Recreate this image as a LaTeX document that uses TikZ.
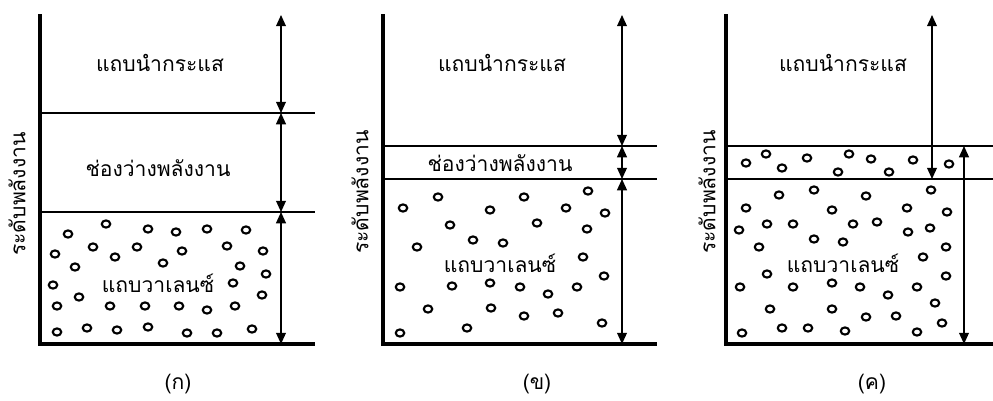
\documentclass[tikz,border=0pt]{standalone}
\usepackage{fontspec}
\newfontfamily\thaifont[Script=Thai]{Loma}
\usetikzlibrary{arrows.meta}

\tikzset{
    axis/.style={line width=2.2pt},
    level/.style={line width=1.8pt},
    span/.style={{Triangle[length=8pt,width=7pt]}-{Triangle[length=8pt,width=7pt]}, line width=1pt},
    lbl/.style={font=\thaifont\fontsize{15}{17}\selectfont, inner sep=0pt},
    elec/.style={line width=1.5pt}
}

\begin{document}
\begin{tikzpicture}[x=0.025cm,y=-0.025cm]
    \useasboundingbox (0,0) rectangle (993,401);

    % (a) wide gap
    \coordinate (a0) at (40,14);
    \coordinate (a1) at (40,344);
    \coordinate (a2) at (315,344);
    \coordinate (ac) at (40,113);  \coordinate (ac') at (315,113);
    \coordinate (av) at (40,212);  \coordinate (av') at (315,212);
    \coordinate (at) at (281,15);  \coordinate (au) at (281,113);
    \coordinate (al) at (281,212); \coordinate (ab) at (281,344);

    \draw[axis] (a0) -- (a1) -- (a2);
    \draw[level] (ac) -- (ac');
    \draw[level] (av) -- (av');
    \draw[span] (at) -- (au);
    \draw[span] (au) -- (al);
    \draw[span] (al) -- (ab);

    \node[lbl] (condA) at (160,63) {แถบนำกระแส};
    \node[lbl] (gapA) at (158,168) {ช่องว่างพลังงาน};
    \node[lbl] (valA) at (158,283) {แถบวาเลนซ์};
    \node[lbl, rotate=90] (axA) at (17,194) {ระดับพลังงาน};
    \node[lbl] (capA) at (178,384) {(ก)};

    \foreach \x/\y in {106/224,68/234,148/229,176/232,207/229,246/230,
        55/254,93/247,115/257,137/247,182/251,227/246,263/251,
        75/267,163/263,240/266,266/274,53/285,233/283,79/297,262/295,
        57/306,110/306,145/306,179/306,207/310,235/306,
        57/332,87/328,117/330,148/327,187/333,217/333,252/329}
        \draw[elec] (\x,\y) ellipse [x radius=0.105cm, y radius=0.09cm];

    % (b) narrow gap
    \coordinate (b0) at (383,14);
    \coordinate (b1) at (383,344);
    \coordinate (b2) at (657,344);
    \coordinate (bc) at (383,146);  \coordinate (bc') at (657,146);
    \coordinate (bv) at (383,179);  \coordinate (bv') at (657,179);
    \coordinate (bt) at (622,15);   \coordinate (bu) at (622,146);
    \coordinate (bl) at (622,179);  \coordinate (bb) at (622,344);

    \draw[axis] (b0) -- (b1) -- (b2);
    \draw[level] (bc) -- (bc');
    \draw[level] (bv) -- (bv');
    \draw[span] (bt) -- (bu);
    \draw[span] (bu) -- (bl);
    \draw[span] (bl) -- (bb);

    \node[lbl] (condB) at (502,63) {แถบนำกระแส};
    \node[lbl] (gapB) at (500,163) {ช่องว่างพลังงาน};
    \node[lbl] (valB) at (500,263) {แถบวาเลนซ์};
    \node[lbl, rotate=90] (axB) at (360,192) {ระดับพลังงาน};
    \node[lbl] (capB) at (537,384) {(ข)};

    \foreach \x/\y in {438/197,524/197,588/191,403/208,490/210,566/208,605/213,
        450/225,537/223,587/229,417/247,473/240,503/243,583/257,604/276,
        400/287,452/286,490/283,520/287,548/294,577/287,
        428/309,491/308,524/316,558/313,400/333,467/328,602/323}
        \draw[elec] (\x,\y) ellipse [x radius=0.105cm, y radius=0.09cm];

    % (c) overlapping bands
    \coordinate (c0) at (726,14);
    \coordinate (c1) at (726,344);
    \coordinate (c2) at (993,344);
    \coordinate (cc) at (726,146);  \coordinate (cc') at (993,146);
    \coordinate (cv) at (726,179);  \coordinate (cv') at (993,179);
    \coordinate (ct) at (932,15);   \coordinate (cu) at (932,179);
    \coordinate (cl) at (964,146);  \coordinate (cb) at (964,344);

    \draw[axis] (c0) -- (c1) -- (c2);
    \draw[level] (cc) -- (cc');
    \draw[level] (cv) -- (cv');
    \draw[span] (ct) -- (cu);
    \draw[span] (cl) -- (cb);

    \node[lbl] (condC) at (843,63) {แถบนำกระแส};
    \node[lbl] (valC) at (843,263) {แถบวาเลนซ์};
    \node[lbl, rotate=90] (axC) at (707,192) {ระดับพลังงาน};
    \node[lbl] (capC) at (872,384) {(ค)};

    \foreach \x/\y in {746/163,766/154,782/168,807/158,838/172,849/154,871/159,
        889/172,913/160,949/164,
        779/195,814/190,866/196,931/190,746/208,832/210,907/208,947/212,
        739/230,767/224,793/224,853/224,877/222,908/232,930/228,
        759/247,814/239,843/242,946/247,923/257,767/274,946/276,
        740/287,793/287,832/283,860/287,888/295,917/287,
        770/309,832/309,866/317,896/316,935/303,
        742/333,782/328,808/328,845/331,917/332,942/323}
        \draw[elec] (\x,\y) ellipse [x radius=0.105cm, y radius=0.09cm];
\end{tikzpicture}
\end{document}
